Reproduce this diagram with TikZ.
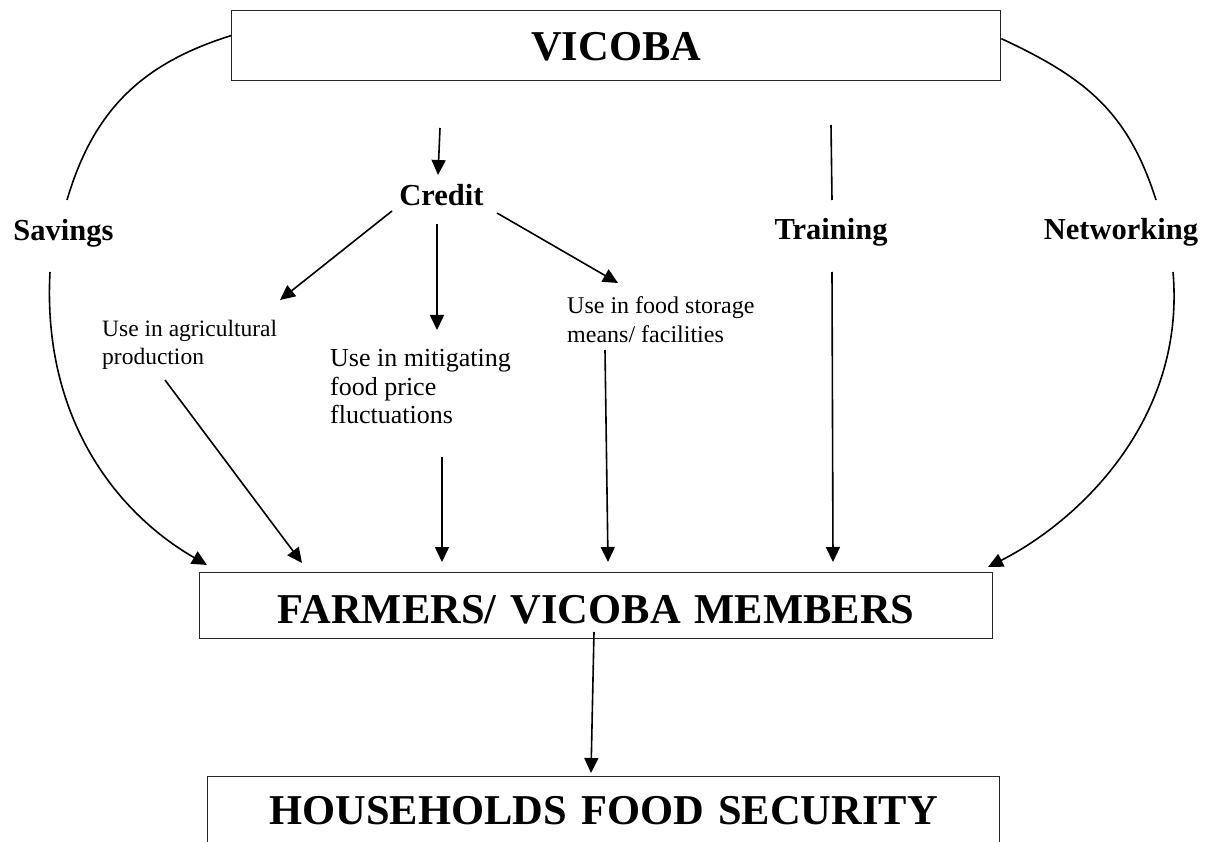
\documentclass[tikz,border=0pt]{standalone}
\usepackage{fontspec}
\setmainfont{Liberation Serif}
\usetikzlibrary{arrows.meta}
\begin{document}
\begin{tikzpicture}[x=1pt,y=1pt,
  bigbox/.style={draw=black!85, line width=1.3pt, inner sep=0pt, align=center, anchor=north west,
                 font=\fontsize{42.5}{50}\selectfont\bfseries},
  lbl/.style={inner sep=0pt, anchor=base, font=\fontsize{30.5}{36}\selectfont\bfseries},
  usetxt/.style={inner sep=0pt, anchor=base west},
  conn/.style={line width=1.6pt},
  arr/.style={conn, -{Triangle[length=15pt,width=14pt]}}]
\clip (0,0) rectangle (1210,-842);
\fill[white] (0,0) rectangle (1210,-842);

% boxes
\node[bigbox, text width=769pt, text height=50pt, text depth=20pt] (vicoba) at (231,-10) {VICOBA};
\node[bigbox, text width=793pt, text height=51pt, text depth=15pt] (farm) at (199,-572) {FARMERS/ VICOBA MEMBERS};
\node[bigbox, text width=792pt, text height=48pt, text depth=60pt] (house) at (207,-776) {HOUSEHOLDS FOOD SECURITY};

% labels
\node[lbl] (savings) at (63.5,-241) {Savings};
\node[lbl] (credit) at (441.5,-206) {Credit};
\node[lbl] (training) at (831,-240) {Training};
\node[lbl] (network) at (1121,-240) {Networking};

% uses of credit
\node[usetxt, font=\fontsize{23.5}{28}\selectfont] (agri) at (102,-337)
  {\begin{tabular}[t]{@{}l@{}}Use in agricultural\\production\end{tabular}};
\node[usetxt, font=\fontsize{26}{29}\selectfont] (mitig) at (330,-366)
  {\begin{tabular}[t]{@{}l@{}}Use in mitigating\\food price\\fluctuations\end{tabular}};
\node[usetxt, font=\fontsize{24}{29}\selectfont] (store) at (567,-313)
  {\begin{tabular}[t]{@{}l@{}}Use in food storage\\means/ facilities\end{tabular}};

% connector end points
\coordinate (vl) at ([yshift=10pt]vicoba.west);
\coordinate (vr) at ([yshift=7pt]vicoba.east);
\coordinate (savtop) at (67,-200);
\coordinate (savbot) at (50,-272);
\coordinate (nettop) at (1156,-200);
\coordinate (netbot) at (1173,-272);
\coordinate (crin) at (440,-128);
\coordinate (crtip) at (438,-175);
\coordinate (crl) at (392,-211);
\coordinate (crm) at (437,-224);
\coordinate (crr) at (497,-213);
\coordinate (agritip) at (280,-300);
\coordinate (mitigtip) at (437,-330);
\coordinate (storetip) at (618,-283);
\coordinate (trtop) at (831,-125);
\coordinate (trmid) at (832,-200);
\coordinate (trbot) at (832,-272);
\coordinate (agriout) at (165,-380);
\coordinate (mitigout) at (442,-457);
\coordinate (storeout) at (605,-350);
\coordinate (fsav) at (207,-565);
\coordinate (fagri) at (302,-563);
\coordinate (fmitig) at (442,-562);
\coordinate (fstore) at (608,-562);
\coordinate (ftrain) at (833,-562);
\coordinate (fnet) at (988,-567);
\coordinate (farmout) at (594,-632);
\coordinate (housetip) at (591,-773);

% arcs
\draw[conn] (vl) .. controls (140,-64) and (93,-112) .. (savtop);
\draw[conn] (vr) .. controls (1086,-78) and (1128,-112) .. (nettop);
\draw[arr] (savbot) .. controls (42,-422) and (120,-515) .. (fsav);
\draw[arr] (netbot) .. controls (1186,-421) and (1077,-522) .. (fnet);

% credit
\draw[arr] (crin) -- (crtip);
\draw[arr] (crl) -- (agritip);
\draw[arr] (crm) -- (mitigtip);
\draw[arr] (crr) -- (storetip);

% training
\draw[conn] (trtop) -- (trmid);
\draw[arr] (trbot) -- (ftrain);

% uses to farmers
\draw[arr] (agriout) -- (fagri);
\draw[arr] (mitigout) -- (fmitig);
\draw[arr] (storeout) -- (fstore);

% farmers to households
\draw[arr] (farmout) -- (housetip);
\end{tikzpicture}
\end{document}
